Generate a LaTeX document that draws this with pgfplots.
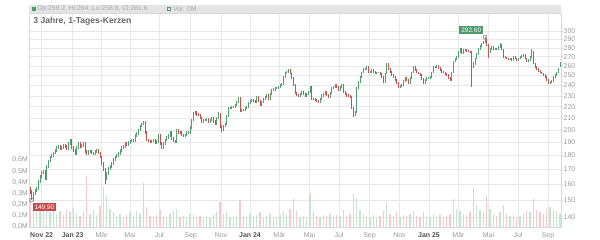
\documentclass[border=0pt]{standalone}
\usepackage{fontspec}
\setmainfont{Liberation Sans}
\usepackage{pgfplots}
\usepackage{pgfplotstable}
\pgfplotsset{compat=1.18}
\definecolor{upc}{HTML}{55A070}
\definecolor{dnc}{HTML}{C4524F}
\definecolor{vup}{HTML}{C6E4CF}
\definecolor{vdn}{HTML}{F6CACA}
\definecolor{gridc}{HTML}{E8E8E8}
\definecolor{framec}{HTML}{D9D9D9}
\definecolor{tickc}{HTML}{9A9A9A}
\definecolor{yearc}{HTML}{555555}
\definecolor{hdrc}{HTML}{E4E4E4}
\definecolor{hdrtext}{HTML}{AAAAAA}
\definecolor{hdrgreen}{HTML}{4A9A64}
\definecolor{titlec}{HTML}{666666}
\definecolor{labgreen}{HTML}{4E9A6C}
\definecolor{labred}{HTML}{C94A4A}
\pgfplotstableread{
x o h l c
0 157 158 154 155
1 155 156 149.9 150.5
2 150.5 155 149.5 154
3 154 157 153 156
4 156 158 155 157
5 157 163 156 162
6 162 166 161 165
7 165 169 164 168
8 168 170 167 169
9 169 170 163 164
10 164 173 163 172
11 172 177 171 176
12 176 180 175 179
13 179 181 178 180
14 180 183 179 182
15 182 185 181 184
16 184 187 183 186
17 186 188 185 187
18 187 188 184 185
19 185 187 184 186
20 186 189 185 188
21 188 189 186 187
22 187 188 184 185
23 185 190 184 189
24 189 193 188 192
25 192 193 185 186
26 186 187 183 184
27 184 185 180.5 181.5
28 181.5 187 180.5 186
29 186 190 185 189
30 189 190 186 187
31 187 188.5 186 187.5
32 187.5 190 186.5 189
33 189 190 182 183
34 183 184 180.7 181.7
35 181.7 184 180.7 183
36 183 184 182 183
37 183 184 181 182
38 182 183 180.7 181.7
39 181.7 184 180.7 183
40 183 185 182 184
41 184 185 181 182
42 182 183 178 179
43 179 180 173 174
44 174 175 169 170
45 170 171 160 164
46 164 168 163 167
47 167 172 166 171
48 171 173 170 172
49 172 175 171 174
50 174 178 173 177
51 177 180 176 179
52 179 181 178 180
53 180 182.7 179 181.7
54 181.7 185 180.7 184
55 184 187 183 186
56 186 188 185 187
57 187 190 186 189
58 189 190 187 188
59 188 191 187 190
60 190 192 189 191
61 191 193 190 192
62 192 193 190 191
63 191 196.5 190 195.5
64 195.5 198 194.5 197
65 197 201 196 200
66 200 204 199 203
67 203 206 202 205
68 205 207 204 206
69 206 207 196.7 197.7
70 197.7 198.7 191 192
71 192 193 190 191
72 191 192 189.5 190.5
73 190.5 192 189.5 191
74 191 193 190 192
75 192 193 189 190
76 190 191.5 189 190.5
77 190.5 196.5 189.5 195.5
78 195.5 196.5 188 189
79 189 190 185 186
80 186 190 185 189
81 189 193 188 192
82 192 195 191 194
83 194 196.5 193 195.5
84 195.5 199.5 194.5 198.5
85 198.5 199.5 192 193
86 193 194 190 191
87 191 192 189.5 190.5
88 190.5 201 189.5 200
89 200 201 197 198
90 198 199 196.7 197.7
91 197.7 198.7 195 196
92 196 197 194.5 195.5
93 195.5 197 194.5 196
94 196 198.7 195 197.7
95 197.7 199 196.7 198
96 198 202.8 197 201.8
97 201.8 209 200.8 208
98 208 215 207 214
99 214 215.7 213 214.7
100 214.7 215.7 212 213
101 213 214 211.6 212.6
102 212.6 213.6 209 210
103 210 211 206 207
104 207 209 206 208
105 208 209.3 207 208.3
106 208.3 210 207.3 209
107 209 210 206 207
108 207 209 206 208
109 208 210.6 207 209.6
110 209.6 210.6 206 207
111 207 208 204 205
112 205 211 204 210
113 210 215.4 209 213
114 213 214 201.7 202.7
115 202.7 203.7 198 200
116 200 204 199 203
117 203 206 202 205
118 205 213 204 212
119 212 219.6 211 218.6
120 218.6 220 217.6 219
121 219 221 218 220
122 220 221 219 220
123 220 222.4 219 221.4
124 221.4 225 220.4 224
125 224 229 223 228
126 228 229 215 216
127 216 218 215 217
128 217 218 216 217
129 217 219.6 216 218.6
130 218.6 221 217.6 220
131 220 224 219 223
132 223 226 222 225
133 225 227 224 226
134 226 227 224 225
135 225 226 223.5 224.5
136 224.5 230 223.5 229
137 229 230 224 225
138 225 226 220.4 221.4
139 221.4 225 220.4 224
140 224 228.3 223 227.3
141 227.3 230 226.3 229
142 229 231.3 228 230.3
143 230.3 231.3 226.3 227.3
144 227.3 233 226.3 232
145 232 236.5 231 235.5
146 235.5 237 234.5 236
147 236 238 235 237
148 237 238 236 237
149 237 239.6 236 238.6
150 238.6 241 237.6 240
151 240 242.8 239 241.8
152 241.8 249 240.8 248
153 248 254 247 253
154 253 255 252 254
155 254 257 253 255.7
156 255.7 256.7 251 252
157 252 253 246 247
158 247 248 239 240
159 240 241 232 233
160 233 234 230 231
161 231 232 229.3 230.3
162 230.3 233 229.3 232
163 232 234.6 231 233.6
164 233.6 234.6 231 232
165 232 233 229.3 230.3
166 230.3 233 229.3 232
167 232 234.6 231 233.6
168 233.6 239.6 232.6 238.6
169 238.6 239.6 226.3 227.3
170 227.3 228.3 226 227
171 227 228 225 226
172 226 227 224 225
173 225 226 223.5 224.5
174 224.5 228 223.5 227
175 227 231.3 226 230.3
176 230.3 233 229.3 232
177 232 234.6 231 233.6
178 233.6 234.6 230 231
179 231 232 228 229
180 229 234 228 233
181 233 238 232 237
182 237 239 236 238
183 238 241.2 237 240.2
184 240.2 241.2 237 238
185 238 239 234.5 235.5
186 235.5 239 234.5 238
187 238 241.2 237 240.2
188 240.2 241.2 232.6 233.6
189 233.6 234.6 231 232
190 232 233 229.3 230.3
191 230.3 231.3 228.5 229.5
192 229.5 230.5 228 229
193 229 230 217.6 218.6
194 218.6 219.6 211 213
195 213 216.4 212 215.4
196 215.4 238 214.4 237
197 237 244 236 243
198 243 249 242 248
199 248 254 247 253
200 253 258 252 257
201 257 258 256 257
202 257 259.6 256 258.6
203 258.6 259.6 252 253
204 253 255 252 254
205 254 256.7 253 255.7
206 255.7 256.7 253 254
207 254 255 251 252
208 252 254 251 253
209 253 254 252 253
210 253 254 250 251
211 251 252 247 248
212 248 249 242 243
213 243 253 242 252
214 252 263.6 251 262.6
215 262.6 263.6 256 257
216 257 258 253 254
217 254 255 249 250
218 250 251 247 248
219 248 249 244.4 245.4
220 245.4 246.4 241 242
221 242 243 237.6 238.6
222 238.6 240 237.6 239
223 239 241.2 238 240.2
224 240.2 245 239.2 244
225 244 248 243 247
226 247 248 244 245
227 245 246 241 242
228 242 248 241 247
229 247 254 246 253
230 253 259.6 252 258.6
231 258.6 259.6 255 256
232 256 257 252 253
233 253 254 251 252
234 252 253 249 250
235 250 251 245 246
236 246 247 241 242
237 242 246 241 245
238 245 248 244 247
239 247 248.5 246 247.5
240 247.5 249 246.5 248
241 248 254 247 253
242 253 259.6 252 258.6
243 258.6 260 257.6 259
244 259 261.3 258 260.3
245 260.3 261.3 257 258
246 258 259 254.7 255.7
247 255.7 256.7 253 254
248 254 255 252 253
249 253 254 250 251
250 251 252 249 250
251 250 251 246 247
252 247 248 244.4 245.4
253 245.4 254 244.4 253
254 253 265.7 252 264.7
255 264.7 268 263.7 267
256 267 271 266 270
257 270 276 269 275
258 275 280 274 279
259 279 280 272.6 273.6
260 273.6 278.5 272.6 277.5
261 277.5 278.5 276.5 277.5
262 277.5 278.5 275 276
263 276 277 274.7 275.7
264 275.7 276.7 274 275
265 275 276 238.6 262
266 262 264 258 262
267 262 269 261 268
268 268 274 267 273
269 273 280 272 279
270 279 283 278 282
271 282 286 281 285
272 285 288 284 287
273 287 292.6 286 291
274 291 292 282 283
275 283 284 268 275
276 275 280 274 279
277 279 282 278 281
278 281 282 278 279
279 279 280 278 279
280 279 280 278 279
281 279 282 278 281
282 281 285 280 283
283 283 284 277 278
284 278 279 269 270
285 270 271 268 269
286 269 270 267 268
287 268 269 266 267
288 267 269 266 268
289 268 269 265.4 266.4
290 266.4 271 265.4 270
291 270 271 267 268
292 268 269 265.4 266.4
293 266.4 269 265.4 268
294 268 271 267 270
295 270 272 269 271
296 271 273 270 272
297 272 273 267 268
298 268 269 263.7 264.7
299 264.7 267 263.7 266
300 266 271 265 270
301 270 279 269 275
302 275 276 261.6 262.6
303 262.6 263.6 258 259
304 259 260 256 257
305 257 258 254 255
306 255 256 252 253
307 253 254 251 252
308 252 253 249 250
309 250 251 247 248
310 248 249 244.4 245.4
311 245.4 246.4 241 242
312 242 244 241 243
313 243 245 242 244
314 244 249 243 248
315 248 251 247 250
316 250 254 249 253
317 253 258 252 257
318 259.2 264 258.8 261.6
}\candles
\pgfplotstableread{
x v u
0 0.22 0
2 0.18 1
4 0.20 1
6 0.15 1
8 0.17 1
10 0.21 1
12 0.13 1
14 0.16 1
16 0.12 1
18 0.14 0
20 0.11 1
22 0.15 0
24 0.13 1
26 0.17 0
28 0.12 1
30 0.10 0
32 0.14 1
34 0.46 0
36 0.12 1
38 0.15 0
40 0.11 1
42 0.19 0
44 0.36 0
46 0.28 1
48 0.16 1
50 0.13 1
52 0.10 1
54 0.12 1
56 0.09 1
58 0.11 0
60 0.13 1
62 0.10 0
64 0.14 1
66 0.12 1
68 0.39 0
70 0.18 0
72 0.10 0
74 0.09 1
76 0.11 0
78 0.15 0
80 0.10 1
82 0.08 1
84 0.12 1
86 0.14 0
88 0.16 1
90 0.09 0
92 0.10 0
94 0.08 1
96 0.12 1
98 0.11 1
100 0.09 0
102 0.10 0
104 0.07 1
106 0.09 1
108 0.08 1
110 0.11 0
112 0.13 1
114 0.22 0
116 0.12 1
118 0.14 1
120 0.09 1
122 0.08 1
124 0.10 1
126 0.24 0
128 0.10 1
130 0.09 1
132 0.12 1
134 0.10 0
136 0.11 1
138 0.13 0
140 0.09 1
142 0.10 1
144 0.12 1
146 0.08 1
148 0.09 1
150 0.11 1
152 0.14 1
154 0.12 1
156 0.16 0
158 0.25 0
160 0.14 0
162 0.09 1
164 0.10 0
166 0.08 1
168 0.30 1
170 0.13 0
172 0.10 0
174 0.09 1
176 0.11 1
178 0.10 0
180 0.12 1
182 0.09 1
184 0.11 0
186 0.10 1
188 0.15 0
190 0.10 0
192 0.12 0
194 0.30 0
196 0.26 1
198 0.15 1
200 0.12 1
202 0.10 1
204 0.09 1
206 0.11 0
208 0.08 1
210 0.10 0
212 0.14 0
214 0.22 1
216 0.12 0
218 0.10 0
220 0.13 0
222 0.09 1
224 0.11 1
226 0.10 0
228 0.12 1
230 0.14 1
232 0.10 0
234 0.09 0
236 0.13 0
238 0.10 1
240 0.09 1
242 0.12 1
244 0.10 1
246 0.11 0
248 0.09 0
250 0.10 0
252 0.12 0
254 0.25 1
256 0.16 1
258 0.14 1
260 0.12 1
262 0.11 0
264 0.13 0
266 0.35 0
268 0.20 1
270 0.15 1
272 0.13 1
274 0.28 0
276 0.16 1
278 0.11 0
280 0.10 0
282 0.13 1
284 0.20 0
286 0.12 0
288 0.10 1
290 0.11 1
292 0.09 0
294 0.10 1
296 0.12 1
298 0.14 0
300 0.13 1
302 0.25 0
304 0.15 0
306 0.13 0
308 0.12 0
310 0.16 0
312 0.18 1
314 0.15 1
316 0.14 1
318 0.12 1
}\vols
\pgfplotsset{
  base/.style={at={(0,0)}, anchor=south west, scale only axis,
    width=532bp, height=214bp, xmin=-0.6, xmax=318.6},
}
\begin{document}
\begin{tikzpicture}
\path[use as bounding box] (-29bp,-13bp) rectangle (571bp,227bp);
% header band
\fill[hdrc] (0,214bp) rectangle (532bp,222bp);
\fill[hdrgreen] (2.7bp,216bp) rectangle (6.7bp,220bp);
\node[anchor=west, inner sep=0pt, text=hdrtext, font=\fontsize{6.8}{7}\selectfont] at (8bp,218bp) {Op:259.2, Hi:264, Lo:258.8, Cl:261.6};
\draw[hdrgreen!70!gray, line width=0.6bp] (138.3bp,216.3bp) rectangle (141.7bp,219.7bp);
\node[anchor=west, inner sep=0pt, text=hdrtext, font=\fontsize{6.8}{7}\selectfont] at (144bp,218bp) {Vol: 0M};
% grid / price ticks
\begin{axis}[base,
  ymode=log, ymin=134.3, ymax=323,
  axis lines=box, axis line style={draw=framec, line width=0.5bp},
  xtick={7,25.6,43,60,77.6,96.4,114.6,132,149.7,167.7,185.4,203.7,221.7,239.4,257.1,275.1,292.8,310.8},
  xticklabels={{\bfseries\color{yearc}Nov 22},{\bfseries\color{yearc}Jan 23},Mär,Mai,Jul,Sep,Nov,{\bfseries\color{yearc}Jan 24},Mär,Mai,Jul,Sep,Nov,{\bfseries\color{yearc}Jan 25},Mär,Mai,Jul,Sep},
  ytick={140,150,160,170,180,190,200,210,220,230,240,250,260,270,280,290,300},
  yticklabels={140,150,160,170,180,190,200,210,220,230,240,250,260,270,280,290,300},
  ymajorgrids, xmajorgrids, grid style={draw=gridc, line width=0.5bp},
  yticklabel pos=right, ytick pos=right, xtick pos=bottom,
  tick align=outside, major tick length=2bp,
  ytick style={draw=framec, line width=0.5bp}, xtick style={draw=none},
  yticklabel style={anchor=west, inner sep=0pt, xshift=0.5bp, font=\fontsize{7}{8}\selectfont, text=tickc},
  xticklabel style={anchor=base, inner sep=0pt, yshift=-9bp, font=\fontsize{7}{8}\selectfont, text=tickc},
  minor tick num=0,
]
\addplot[draw=none] coordinates {(0,200)};
\end{axis}
% volume
\begin{axis}[base, ymin=0, ymax=1.916,
  axis x line=none, axis y line*=left,
  y axis line style={draw=none},
  ytick={0,0.1,0.2,0.3,0.4,0.5,0.6},
  yticklabels={{0,0M},{0,1M},{0,2M},{0,3M},{0,4M},{0,5M},{0,6M}},
  xtick=\empty,
  yticklabel style={anchor=east, inner sep=0pt, xshift=-1bp, font=\fontsize{7}{8}\selectfont, text=tickc},
  ytick style={draw=none}, major tick length=0pt,
]
\addplot[ycomb, draw=vup, line width=1.5bp, mark=none,
  x filter/.expression={\thisrow{u}>0.5 ? x : nan}] table[x=x, y=v] {\vols};
\addplot[ycomb, draw=vdn, line width=1.5bp, mark=none,
  x filter/.expression={\thisrow{u}>0.5 ? nan : x}] table[x=x, y=v] {\vols};
\end{axis}
% candles
\begin{axis}[base, ymode=log, ymin=134.3, ymax=323, hide axis, clip=false]
\addplot[draw=none, mark=none,
  x filter/.expression={\thisrow{c}<\thisrow{o} ? nan : x},
  error bars/.cd, y dir=plus, y explicit, error mark=none,
  error bar style={draw=upc, line width=0.4bp}]
  table[x=x, y=l, y error expr=\thisrow{h}-\thisrow{l}] {\candles};
\addplot[draw=none, mark=none,
  x filter/.expression={\thisrow{c}<\thisrow{o} ? x : nan},
  error bars/.cd, y dir=plus, y explicit, error mark=none,
  error bar style={draw=dnc, line width=0.4bp}]
  table[x=x, y=l, y error expr=\thisrow{h}-\thisrow{l}] {\candles};
\addplot[draw=none, mark=none,
  x filter/.expression={\thisrow{c}<\thisrow{o} ? nan : x},
  error bars/.cd, y dir=plus, y explicit, error mark=none,
  error bar style={draw=upc, line width=0.85bp}]
  table[x=x, y=o, y error expr=\thisrow{c}-\thisrow{o}] {\candles};
\addplot[draw=none, mark=none,
  x filter/.expression={\thisrow{c}<\thisrow{o} ? x : nan},
  error bars/.cd, y dir=plus, y explicit, error mark=none,
  error bar style={draw=dnc, line width=0.85bp}]
  table[x=x, y=c, y error expr=\thisrow{o}-\thisrow{c}] {\candles};
\addplot[only marks, mark=o, mark size=2bp, mark options={draw=gray, line width=0.6bp, fill=none}] coordinates {(273,292.6) (1,149.9)};
\node[anchor=south east, fill=labgreen, text=white, inner xsep=2bp, inner ysep=1.6bp, text height=4.8bp, text depth=0pt, font=\fontsize{6.5}{7}\selectfont] at (axis cs:272,296.3) {292.60};
\node[anchor=north west, fill=labred, text=white, inner xsep=2bp, inner ysep=1.6bp, text height=4.8bp, text depth=0pt, font=\fontsize{6.5}{7}\selectfont] at (axis cs:1.4,148.1) {149,90};
\end{axis}
% title
\node[anchor=base west, inner sep=0pt, text=titlec, font=\bfseries\fontsize{8.6}{9}\selectfont] at (4.3bp,203bp) {3 Jahre, 1-Tages-Kerzen};
\end{tikzpicture}
\end{document}
